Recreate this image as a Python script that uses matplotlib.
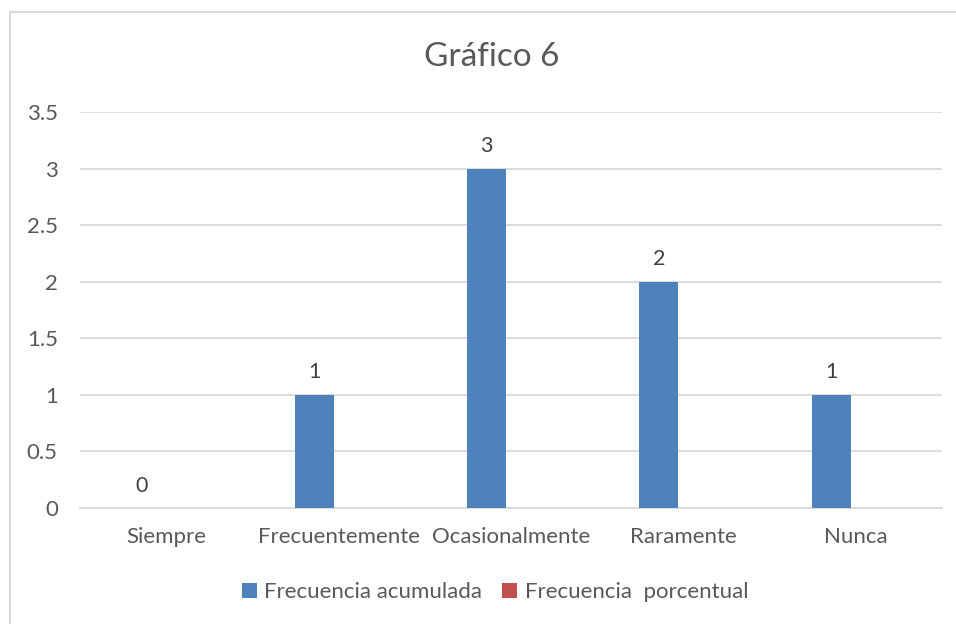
import matplotlib
matplotlib.use("Agg")
import matplotlib.pyplot as plt
from matplotlib.patches import Rectangle
import numpy as np

plt.rcParams['font.family'] = ['Lato', 'DejaVu Sans']

categories = ["Siempre", "Frecuentemente", "Ocasionalmente", "Raramente", "Nunca"]
frecuencia_acumulada = [0, 1, 3, 2, 1]
frecuencia_porcentual = [0, 0, 0, 0, 0]
series_names = ["Frecuencia acumulada", "Frecuencia  porcentual"]
yticks = [0, 0.5, 1, 1.5, 2, 2.5, 3, 3.5]
ytick_labels = ["0", "0.5", "1", "1.5", "2", "2.5", "3", "3.5"]

blue = "#4f81bd"
red = "#c0504d"
txt = "#595959"
grid = "#d9d9d9"

fig = plt.figure(figsize=(9.56, 6.24), dpi=100)
fig.patches.append(Rectangle((10/956, -0.1), 1.2, 1.1 - 12/624, transform=fig.transFigure,
                             fill=False, edgecolor="#d9d9d9", linewidth=1.5))
ax = fig.add_axes([80/956, 1 - 508/624, (942 - 80)/956, (508 - 112)/624])

x = np.arange(len(categories))
w = 0.226
off = 0.142
b1 = ax.bar(x - off, frecuencia_acumulada, w, color=blue, label=series_names[0], zorder=3)
b2 = ax.bar(x + off, frecuencia_porcentual, w, color=red, label=series_names[1], zorder=3)

for xi, v in zip(x - off, frecuencia_acumulada):
    ax.annotate(str(v), (xi, v), xytext=(0, 9), textcoords="offset points",
                ha="center", va="bottom", fontsize=15.5, color="#404040")

ax.set_xlim(-0.5, len(categories) - 0.5)
ax.set_ylim(0, 3.5)
ax.set_yticks(yticks)
ax.set_yticklabels(ytick_labels)
ax.set_xticks(x)
ax.set_xticklabels(categories)
ax.yaxis.grid(True, color=grid, linewidth=1.3, zorder=0)
ax.set_axisbelow(True)
for s in ["top", "right", "left"]:
    ax.spines[s].set_visible(False)
ax.spines["bottom"].set_color(grid)
ax.spines["bottom"].set_linewidth(1.3)
ax.tick_params(axis="both", length=0, labelsize=16, colors=txt)
ax.tick_params(axis="y", pad=16)
ax.tick_params(axis="x", pad=14)

fig.text(0.514, 1 - 57/624, "Gráfico 6", ha="center", va="center", fontsize=24, color=txt)

leg = fig.legend(handles=[b1, b2], labels=series_names, loc="center",
                 bbox_to_anchor=(0.518, 1 - 592/624), ncol=2, frameon=False,
                 fontsize=16, handlelength=0.65, handleheight=0.65, handletextpad=0.35,
                 columnspacing=0.9)
for t in leg.get_texts():
    t.set_color(txt)

fig.savefig("out.png", dpi=100)
